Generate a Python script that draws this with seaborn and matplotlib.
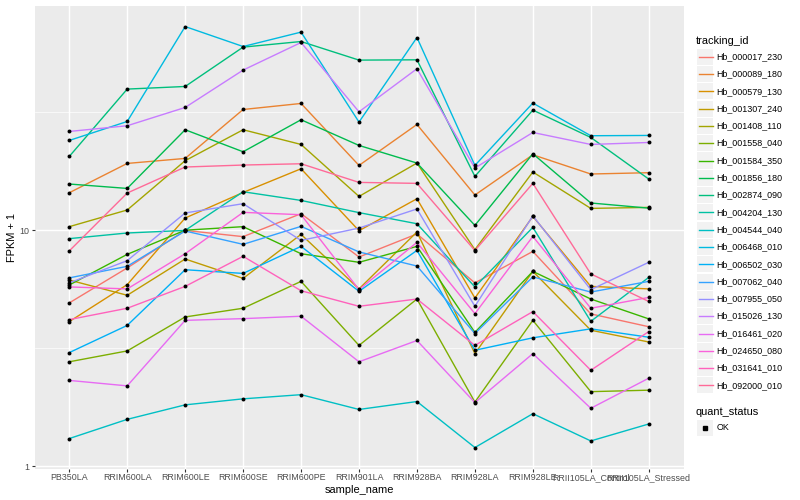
import numpy as np
import pandas as pd
import matplotlib
matplotlib.use("Agg")
import matplotlib.pyplot as plt
import seaborn as sns
from matplotlib.patches import Rectangle
from matplotlib.lines import Line2D

samples = ["PB350LA", "RRIM600LA", "RRIM600LE", "RRIM600SE", "RRIM600PE",
           "RRIM901LA", "RRIM928BA", "RRIM928LA", "RRIM928LE",
           "RRII105LA_Control", "RRII105LA_Stressed"]

genes = ["Hb_000017_230", "Hb_000089_180", "Hb_000579_130", "Hb_001307_240",
         "Hb_001408_110", "Hb_001558_040", "Hb_001584_350", "Hb_001856_180",
         "Hb_002874_090", "Hb_004204_130", "Hb_004544_040", "Hb_006468_010",
         "Hb_006502_030", "Hb_007062_040", "Hb_007955_050", "Hb_015026_130",
         "Hb_016461_020", "Hb_024650_080", "Hb_031641_010", "Hb_092000_010"]

# FPKM + 1, one list per gene, in sample order
hb_000017_230 = [4.92, 6.92, 9.98, 9.39, 11.75, 7.70, 9.64, 5.98, 8.13, 4.42, 3.90]
hb_000089_180 = [14.41, 19.18, 20.14, 32.46, 34.43, 18.81, 28.05, 14.09, 20.87, 17.30, 17.52]
hb_000579_130 = [4.10, 5.88, 11.26, 14.45, 18.21, 9.95, 13.59, 5.16, 11.44, 5.78, 5.64]
hb_001307_240 = [6.15, 5.30, 7.55, 6.25, 9.60, 5.64, 9.83, 3.00, 6.69, 3.77, 3.36]
hb_001408_110 = [10.35, 12.18, 19.70, 26.64, 23.08, 13.90, 19.25, 8.27, 17.64, 12.37, 12.49]
hb_001558_040 = [2.77, 3.08, 4.29, 4.67, 6.07, 3.25, 5.11, 1.87, 4.15, 2.07, 2.10]
hb_001584_350 = [5.86, 7.90, 10.0, 10.35, 7.95, 7.31, 8.54, 3.69, 6.69, 5.11, 4.21]
hb_001856_180 = [15.69, 15.03, 26.64, 21.49, 29.37, 22.86, 19.25, 10.48, 21.08, 13.04, 12.40]
hb_002874_090 = [20.53, 39.61, 40.63, 59.65, 63.0, 52.55, 52.7, 16.90, 32.27, 24.71, 16.47]
hb_004204_130 = [9.21, 9.73, 9.98, 14.55, 13.37, 11.87, 10.65, 5.75, 10.28, 4.11, 6.31]
hb_004544_040 = [1.31, 1.58, 1.82, 1.93, 2.01, 1.74, 1.88, 1.20, 1.67, 1.28, 1.51]
hb_006468_010 = [24.0, 28.88, 72.9, 60.0, 69.05, 28.71, 65.5, 18.81, 34.56, 25.13, 25.2]
hb_006502_030 = [3.03, 3.95, 6.80, 6.56, 8.54, 5.51, 8.21, 3.10, 3.50, 3.82, 3.52]
hb_007062_040 = [6.28, 7.03, 9.92, 8.71, 10.38, 8.09, 7.05, 3.65, 6.34, 5.47, 6.07]
hb_007955_050 = [5.98, 7.43, 11.83, 12.95, 9.05, 10.21, 12.30, 4.76, 11.5, 5.60, 7.31]
hb_015026_130 = [26.2, 27.70, 33.11, 47.67, 62.4, 31.74, 48.3, 18.34, 25.94, 23.08, 23.53]
hb_016461_020 = [2.31, 2.19, 4.15, 4.22, 4.32, 2.77, 3.41, 1.86, 3.00, 1.76, 2.36]
hb_024650_080 = [5.75, 5.64, 7.95, 11.90, 11.63, 5.60, 8.88, 4.43, 9.41, 4.67, 5.19]
hb_031641_010 = [4.18, 4.67, 5.78, 7.75, 5.54, 4.76, 5.11, 3.25, 4.52, 2.55, 3.72]
hb_092000_010 = [8.17, 14.37, 18.52, 18.88, 19.12, 15.94, 15.79, 8.20, 15.79, 6.53, 4.99]

series = [hb_000017_230, hb_000089_180, hb_000579_130, hb_001307_240, hb_001408_110,
          hb_001558_040, hb_001584_350, hb_001856_180, hb_002874_090, hb_004204_130,
          hb_004544_040, hb_006468_010, hb_006502_030, hb_007062_040, hb_007955_050,
          hb_015026_130, hb_016461_020, hb_024650_080, hb_031641_010, hb_092000_010]


def hcl_hex(h, c=100, l=65):
    # ggplot2 hue palette colour (polar LUV -> sRGB, D65)
    xn, yn, zn = 95.047, 100.0, 108.883
    hr = np.deg2rad(h)
    U, V = c * np.cos(hr), c * np.sin(hr)
    Y = yn * ((l + 16) / 116) ** 3
    den = xn + 15 * yn + 3 * zn
    un, vn = 4 * xn / den, 9 * yn / den
    u = U / (13 * l) + un
    v = V / (13 * l) + vn
    X = 9.0 * Y * u / (4 * v)
    Z = -X / 3 - 5 * Y + 3 * Y / v
    X, Y, Z = X / 100, Y / 100, Z / 100
    rgb = [3.240479 * X - 1.537150 * Y - 0.498535 * Z,
           -0.969256 * X + 1.875992 * Y + 0.041556 * Z,
           0.055648 * X - 0.204043 * Y + 1.057311 * Z]
    out = []
    for t in rgb:
        t = 1.055 * t ** (1 / 2.4) - 0.055 if t > 0.0031308 else 12.92 * t
        out.append(min(max(t, 0), 1))
    return matplotlib.colors.to_hex(out)


n = len(genes)
palette = [hcl_hex(h) for h in np.linspace(15, 375, n + 1)[:n]]

rows = []
for g, vals in zip(genes, series):
    for i, (s, v) in enumerate(zip(samples, vals)):
        rows.append({"tracking_id": g, "sample_name": s, "pos": i, "fpkm": v})
df = pd.DataFrame(rows)

fam = ["Liberation Sans", "DejaVu Sans"]
plt.rcParams["font.family"] = fam

W, H = 800, 500
fig = plt.figure(figsize=(8, 5), dpi=100)
left, right, top, bottom = 34.5, 683.5, 5.5, 468.6
ax = fig.add_axes([left / W, 1 - bottom / H, (right - left) / W, (bottom - top) / H])
ax.set_facecolor("#EBEBEB")

sns.lineplot(data=df, x="pos", y="fpkm", hue="tracking_id", hue_order=genes,
             palette=palette, linewidth=1.0, sort=False, legend=False, ax=ax, zorder=2)
sns.scatterplot(data=df, x="pos", y="fpkm", color="black", s=8, linewidth=0,
                legend=False, ax=ax, zorder=3)

ax.set_yscale("log")
lo, hi = np.log10(df["fpkm"].min()), np.log10(df["fpkm"].max())
pad = (hi - lo) * 0.05
ax.set_ylim(10 ** (lo - pad), 10 ** (hi + pad))
ax.set_xlim(-0.6, len(samples) - 0.4)

ax.set_yticks([1, 10])
ax.set_yticklabels(["1", "10"])
ax.set_yticks([10 ** 0.5, 10 ** 1.5], minor=True)
ax.set_xticks(range(len(samples)))
ax.set_xticklabels(samples)

ax.grid(which="major", color="white", linewidth=1.05, zorder=0)
ax.grid(which="minor", axis="y", color="white", linewidth=0.5, zorder=0)
ax.set_axisbelow(True)
for sp in ax.spines.values():
    sp.set_visible(False)
ax.tick_params(which="major", length=2.0, width=0.8, color="#333333",
               labelcolor="#4D4D4D", labelsize=6.4, pad=1.5)
ax.tick_params(which="minor", length=0)
ax.set_xlabel("sample_name", fontsize=7.9, color="black", labelpad=2)
ax.set_ylabel("FPKM + 1", fontsize=7.9, color="black", labelpad=2)

# legend drawn in figure pixel space
lg = fig.add_axes([0, 0, 1, 1], zorder=5)
lg.set_xlim(0, W)
lg.set_ylim(H, 0)
lg.axis("off")
lg.text(696, 40.5, "tracking_id", fontsize=7.9, va="center", ha="left")
key = 17.3
y0 = 56.7
for i, (g, c) in enumerate(zip(genes, palette)):
    yc = y0 + i * key
    lg.add_patch(Rectangle((697, yc - key / 2 + 0.6), key - 1.2, key - 1.2,
                           facecolor="#F2F2F2", edgecolor="none"))
    lg.add_line(Line2D([698.5, 712.5], [yc, yc], color=c, linewidth=1.0))
    lg.text(716.5, yc, g, fontsize=6.4, va="center", ha="left")
lg.text(696, 412, "quant_status", fontsize=7.9, va="center", ha="left")
yc = 428
lg.add_patch(Rectangle((697, yc - key / 2 + 0.6), key - 1.2, key - 1.2,
                       facecolor="#F2F2F2", edgecolor="none"))
lg.plot([705.3], [yc], marker="s", color="black", markersize=2.4, linestyle="none")
lg.text(716.5, yc, "OK", fontsize=6.4, va="center", ha="left")

fig.savefig("out.png", dpi=100)
